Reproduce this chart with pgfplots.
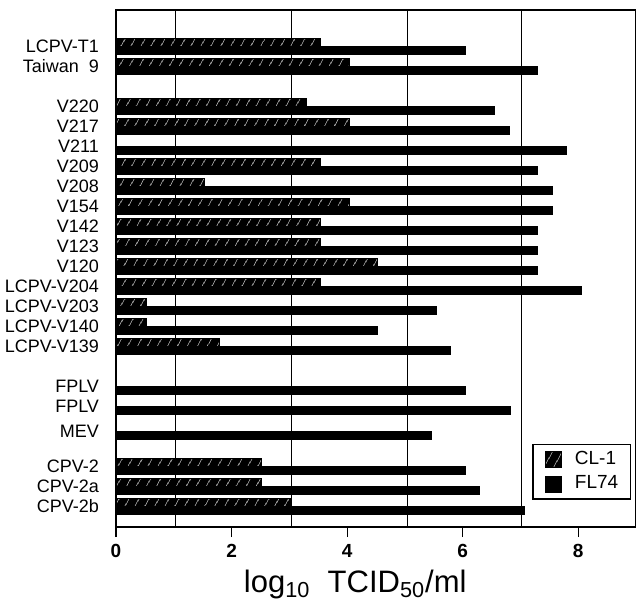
\documentclass[border=0pt]{standalone}
\usepackage{fontspec}
\setmainfont{Liberation Sans}
\usepackage{pgfplots}
\pgfplotsset{compat=1.18}
\usetikzlibrary{patterns.meta}
\pgfplotsset{mybarlegend/.style={legend image code/.code={\draw[##1] (2pt,-4pt) rectangle (10pt,4pt); \pgfpathmoveto{\pgfpoint{0pt}{0pt}}\pgfpathlineto{\pgfpoint{15pt}{0pt}}\pgfusepath{discard}}}}

\begin{document}
\begin{tikzpicture}
\begin{axis}[
  name=ax,
  scale only axis, width=260pt, height=258.5pt,
  xmin=0, xmax=9, ymin=-1.8, ymax=24.05, y dir=reverse,
  axis line style={line width=0.6pt},
  xtick={0,2,4,6,8}, tick align=outside, xtick pos=left, major tick length=5pt,
  xtick style={line width=0.6pt, black},
  /pgf/number format/assume math mode=true,
  xticklabel style={font=\bfseries\fontsize{9.5}{11}\selectfont},
  extra x ticks={1.03,3.03,5.04,7.02},
  extra x tick labels={},
  extra x tick style={grid=major, major tick length=0pt},
  major grid style={black, line width=0.55pt},
  ytick={0,1,3,4,5,6,7,8,9,10,11,12,13,14,15,17,18,19.25,21,22,23},
  yticklabels={LCPV-T1,Taiwan\ \ 9,V220,V217,V211,V209,V208,V154,V142,V123,V120,LCPV-V204,LCPV-V203,LCPV-V140,LCPV-V139,FPLV,FPLV,MEV,CPV-2,CPV-2a,CPV-2b},
  ytick style={draw=none},
  yticklabel style={font=\fontsize{9}{10}\selectfont},
  xlabel={log\textsubscript{10}\ \ TCID\textsubscript{50}/ml},
  xlabel style={at={(axis description cs:0.46,0)}, anchor=base, yshift=-32.5pt, font=\fontsize{15.5}{17}\selectfont},
  legend style={at={(0.99,0.1605)}, anchor=north east, draw=black, line width=0.6pt,
    font=\fontsize{9.5}{11}\selectfont, inner xsep=4pt, inner ysep=1.5pt, row sep=0pt},
  legend cell align=left,
]
\addplot[xbar, bar width=0.4, bar shift=-0.2, fill=black, draw=black, line width=0.3pt,
  postaction={pattern={Lines[angle=60,distance=4pt,line width=0.25pt]}, pattern color=white},
  mybarlegend]
  coordinates {(3.54,0) (4.03,1) (3.29,3) (4.03,4) (3.54,6) (1.53,7) (4.03,8) (3.54,9) (3.54,10) (4.53,11) (3.54,12) (0.52,13) (0.52,14) (1.79,15) (2.51,21) (2.52,22) (3.04,23)};
\addlegendentry{CL-1}
\addplot[xbar, bar width=0.4, bar shift=0.2, fill=black, draw=black, line width=0.3pt,
  mybarlegend]
  coordinates {(6.04,0) (7.30,1) (6.55,3) (6.80,4) (7.79,5) (7.30,6) (7.55,7) (7.55,8) (7.30,9) (7.30,10) (7.30,11) (8.05,12) (5.55,13) (4.53,14) (5.79,15) (6.04,17) (6.82,18) (5.46,19.25) (6.04,21) (6.29,22) (7.06,23)};
\addlegendentry{FL74}
\end{axis}
\pgfresetboundingbox
\path ([shift={(-58pt,-41.5pt)}]ax.south west) rectangle ([shift={(0pt,5pt)}]ax.north east);
\end{tikzpicture}
\end{document}
